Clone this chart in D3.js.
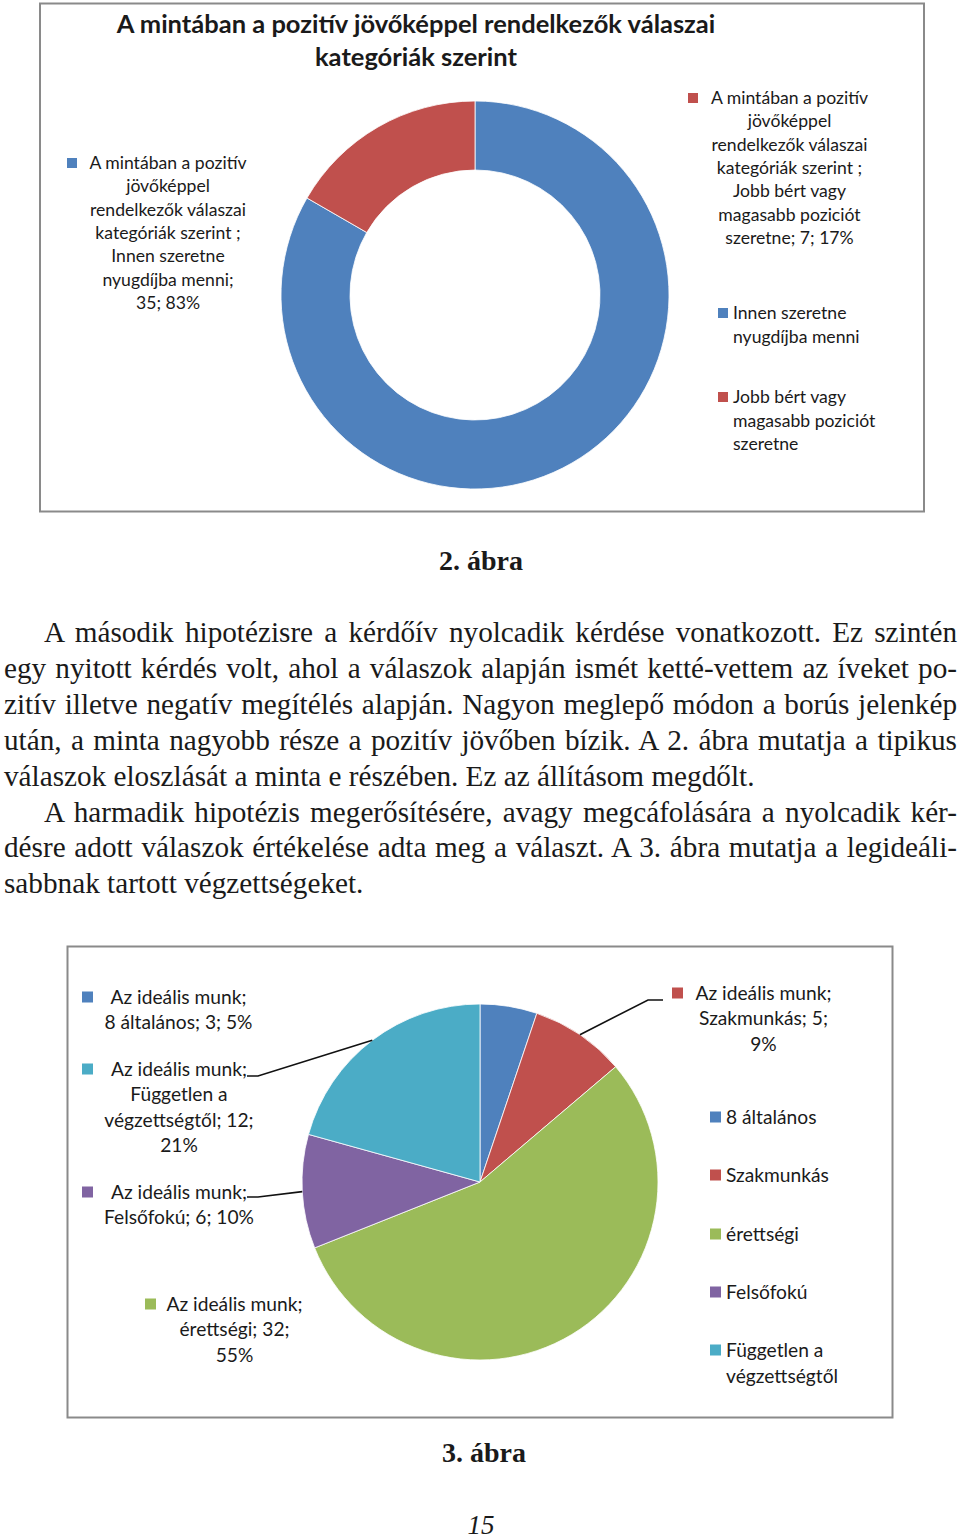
<!DOCTYPE html>
<html><head><meta charset="utf-8">
<script src="https://cdn.jsdelivr.net/npm/d3@7"></script>
<style>
html,body{margin:0;padding:0;background:#fff;}
svg{display:block;}
</style></head>
<body>
<svg id="page" width="960" height="1539"></svg>
<script>
// ---------- DATA ----------
const donutTitleLines = ["A mintában a pozitív jövőképpel rendelkezők válaszai", "kategóriák szerint"];
const donutCategories = ["Innen szeretne nyugdíjba menni", "Jobb bért vagy magasabb poziciót szeretne"];
const donutValues = [35, 7];
const donutPercents = ["83%", "17%"];
const donutLegendLines = [["Innen szeretne", "nyugdíjba menni"], ["Jobb bért vagy", "magasabb poziciót", "szeretne"]];
const donutLabelLines = [
  ["A mintában a pozitív", "jövőképpel", "rendelkezők válaszai", "kategóriák szerint  ;", "Innen szeretne", "nyugdíjba menni;", "35; 83%"],
  ["A mintában a pozitív", "jövőképpel", "rendelkezők válaszai", "kategóriák szerint  ;", "Jobb bért vagy", "magasabb poziciót", "szeretne; 7; 17%"]
];

const pieCategories = ["8 általános", "Szakmunkás", "érettségi", "Felsőfokú", "Független a végzettségtől"];
const pieValues = [3, 5, 32, 6, 12];
const piePercents = ["5%", "9%", "55%", "10%", "21%"];
const pieLegendLines = [["8 általános"], ["Szakmunkás"], ["érettségi"], ["Felsőfokú"], ["Független a", "végzettségtől"]];
const pieLabelLines = [
  ["Az ideális munk;", "8 általános; 3; 5%"],
  ["Az ideális munk;", "Szakmunkás; 5;", "9%"],
  ["Az ideális munk;", "érettségi; 32;", "55%"],
  ["Az ideális munk;", "Felsőfokú; 6; 10%"],
  ["Az ideális munk;", "Független a", "végzettségtől; 12;", "21%"]
];

const captions = ["2. ábra", "3. ábra"];
const pageNumber = "15";
const paragraphLines = [
  {t: "A második hipotézisre a kérdőív nyolcadik kérdése vonatkozott. Ez szintén", indent: true, justify: true},
  {t: "egy nyitott kérdés volt, ahol a válaszok alapján ismét ketté-vettem az íveket po-", indent: false, justify: true},
  {t: "zitív illetve negatív megítélés alapján. Nagyon meglepő módon a borús jelenkép", indent: false, justify: true},
  {t: "után, a minta nagyobb része a pozitív jövőben bízik. A 2. ábra mutatja a tipikus", indent: false, justify: true},
  {t: "válaszok eloszlását a minta e részében. Ez az állításom megdőlt.", indent: false, justify: false},
  {t: "A harmadik hipotézis megerősítésére, avagy megcáfolására a nyolcadik kér-", indent: true, justify: true},
  {t: "désre adott válaszok értékelése adta meg a választ. A 3. ábra mutatja a legideáli-", indent: false, justify: true},
  {t: "sabbnak tartott végzettségeket.", indent: false, justify: false}
];

const officeColors = ["#4F81BD", "#C0504D", "#9BBB59", "#8064A2", "#4BACC6"];

// ---------- DRAW ----------
const svg = d3.select("#page");
const sansFont = "Lato, 'Open Sans', sans-serif";
const serifFont = "'Liberation Serif', 'DejaVu Serif', serif";
const textColor = "#1a1a1a";

function block(g, lines, cx, cy0, lh, fs, anchor) {
  const t = g.append("text")
    .attr("font-family", sansFont).attr("font-size", fs)
    .attr("fill", textColor).attr("text-anchor", anchor || "middle");
  lines.forEach((l, i) => {
    t.append("tspan").attr("x", cx).attr("y", cy0 + i * lh + fs * 0.35).text(l);
  });
  return t;
}

// ===== Chart 1: donut =====
const c1 = svg.append("g");
c1.append("rect").attr("x", 40).attr("y", 3.5).attr("width", 884).attr("height", 508)
  .attr("fill", "#fff").attr("stroke", "#8a8a8a").attr("stroke-width", 2);

const t1 = c1.append("text").attr("font-family", sansFont).attr("font-weight", "bold")
  .attr("font-size", 25.5).attr("fill", textColor).attr("text-anchor", "middle");
donutTitleLines.forEach((l, i) => t1.append("tspan").attr("x", 416).attr("y", 33 + i * 33).text(l));

const donutColor = d3.scaleOrdinal().domain(donutCategories).range(officeColors.slice(0, 2));
const donutPie = d3.pie().sort(null).value(d => d.v);
const donutData = donutPie(donutCategories.map((c, i) => ({c, v: donutValues[i]})));
const donutArc = d3.arc().innerRadius(125).outerRadius(194);
const dg = c1.append("g").attr("transform", "translate(475,295)");
dg.selectAll("path").data(donutData).join("path")
  .attr("d", donutArc).attr("fill", d => donutColor(d.data.c))
  .attr("stroke", "#fff").attr("stroke-width", 0.8);

// data labels
const donutLabelPos = [{cx: 168, y: 163, mx: 67}, {cx: 789.5, y: 98, mx: 688}];
donutLabelLines.forEach((lines, i) => {
  const p = donutLabelPos[i];
  c1.append("rect").attr("x", p.mx).attr("y", p.y - 5).attr("width", 10).attr("height", 10)
    .attr("fill", donutColor(donutCategories[i]));
  block(c1, lines, p.cx, p.y, 23.3, 17.6);
});

// legend
const donutLegendY = [313, 397];
donutLegendLines.forEach((lines, i) => {
  c1.append("rect").attr("x", 718).attr("y", donutLegendY[i] - 5).attr("width", 10).attr("height", 10)
    .attr("fill", donutColor(donutCategories[i]));
  block(c1, lines, 733, donutLegendY[i], 23.5, 17.6, "start");
});

// caption 2
svg.append("text").attr("x", 481).attr("y", 570).attr("text-anchor", "middle")
  .attr("font-family", serifFont).attr("font-weight", "bold").attr("font-size", 28)
  .attr("fill", textColor).text(captions[0]);

// ===== Paragraphs =====
const pg = svg.append("g");
const leftX = 4, rightX = 957, indentX = 44;
let fs = 28;
// calibrate font size using the unjustified line
const probe = pg.append("text").attr("font-family", serifFont).attr("font-size", fs).text(paragraphLines[4].t);
const natural = probe.node().getComputedTextLength();
probe.remove();
fs = fs * 751 / natural;
paragraphLines.forEach((ln, i) => {
  const x0 = ln.indent ? indentX : leftX;
  const t = pg.append("text").attr("x", x0).attr("y", 642 + i * 35.9)
    .attr("font-family", serifFont).attr("font-size", fs).attr("fill", textColor).text(ln.t);
  if (ln.justify) {
    const w = t.node().getComputedTextLength();
    const spaces = (ln.t.match(/ /g) || []).length;
    if (spaces > 0) t.attr("word-spacing", ((rightX - x0) - w) / spaces);
  }
});

// ===== Chart 2: pie =====
const c2 = svg.append("g");
c2.append("rect").attr("x", 67.5).attr("y", 946.5).attr("width", 825).attr("height", 471)
  .attr("fill", "#fff").attr("stroke", "#8a8a8a").attr("stroke-width", 2);

const pieColor = d3.scaleOrdinal().domain(pieCategories).range(officeColors);
const pie = d3.pie().sort(null).value(d => d.v);
const pieData = pie(pieCategories.map((c, i) => ({c, v: pieValues[i]})));
const R = 178, PCX = 480, PCY = 1182;
const pieArc = d3.arc().innerRadius(0).outerRadius(R);
const pg2 = c2.append("g").attr("transform", `translate(${PCX},${PCY})`);
pg2.selectAll("path").data(pieData).join("path")
  .attr("d", pieArc).attr("fill", d => pieColor(d.data.c))
  .attr("stroke", "#fff").attr("stroke-width", 0.8);

function edgePoint(d) {
  const a = (d.startAngle + d.endAngle) / 2;
  return [PCX + R * Math.sin(a), PCY - R * Math.cos(a)];
}

// leader lines (Szakmunkás, Felsőfokú, Független)
const leaders = [
  {i: 1, pts: [[663, 1000], [648, 1000]]},
  {i: 3, pts: [[247, 1197], [258, 1197]]},
  {i: 4, pts: [[247, 1076], [258, 1076]]}
];
leaders.forEach(L => {
  const pts = L.pts.concat([edgePoint(pieData[L.i])]);
  c2.append("path").attr("d", d3.line()(pts)).attr("fill", "none")
    .attr("stroke", "#111").attr("stroke-width", 1.6);
});

const pieLabelPos = [
  {cx: 178.5, y: 997, mx: 82},
  {cx: 763.5, y: 993, mx: 672},
  {cx: 234.5, y: 1304, mx: 145},
  {cx: 179, y: 1192, mx: 82},
  {cx: 179, y: 1069, mx: 82}
];
pieLabelLines.forEach((lines, i) => {
  const p = pieLabelPos[i];
  c2.append("rect").attr("x", p.mx).attr("y", p.y - 5.5).attr("width", 11).attr("height", 11)
    .attr("fill", pieColor(pieCategories[i]));
  block(c2, lines, p.cx, p.y, 25.5, 19.2);
});

const pieLegendY = [1117, 1175, 1234, 1292, 1350];
pieLegendLines.forEach((lines, i) => {
  c2.append("rect").attr("x", 710).attr("y", pieLegendY[i] - 5.5).attr("width", 11).attr("height", 11)
    .attr("fill", pieColor(pieCategories[i]));
  block(c2, lines, 726, pieLegendY[i], 26, 19.2, "start");
});

// caption 3 and page number
svg.append("text").attr("x", 484).attr("y", 1462).attr("text-anchor", "middle")
  .attr("font-family", serifFont).attr("font-weight", "bold").attr("font-size", 28)
  .attr("fill", textColor).text(captions[1]);
svg.append("text").attr("x", 481).attr("y", 1534).attr("text-anchor", "middle")
  .attr("font-family", serifFont).attr("font-style", "italic").attr("font-size", 27)
  .attr("fill", textColor).text(pageNumber);
</script>
</body></html>
